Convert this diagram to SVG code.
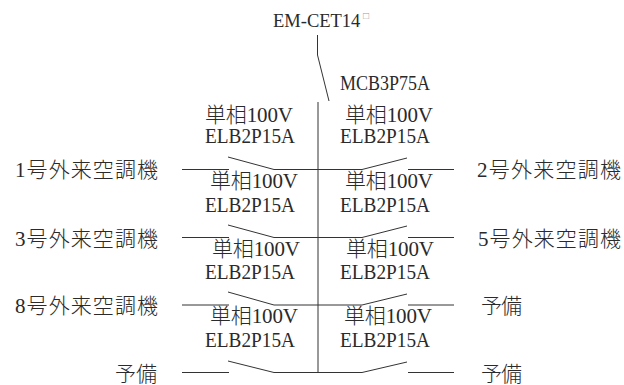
<svg xmlns="http://www.w3.org/2000/svg" width="624" height="385" viewBox="0 0 624 385">
<style>
text{font-family:"Liberation Serif","Noto Sans CJK JP",serif;font-size:20px;fill:#2a2a2a}
.c{font-size:21px;font-weight:300}
#connectors path{fill:none;stroke:#333;stroke-width:1}
</style>
<rect width="624" height="385" fill="#fff"/>
<g id="connectors">
<path d="M317.5 35V55L329 101"/>
<path d="M318 102V372.5"/>
<path d="M182 169.5H229M228 157L274 169.5H362L407 158M408 169.5H454"/>
<path d="M182 237.5H229M228 225L274 237.5H362L407 226M408 237.5H454"/>
<path d="M182 305H229M228 292L274 305H362L407 294M408 305H454"/>
<path d="M182 372.5H229M228 361L274 372.5H362L407 362M408 372.5H454"/>
</g>
<g id="source"><text x="273" y="27" style="font-size:18.5px">EM-CET14</text><text x="363" y="19" style="font-size:10px;fill:#999">□</text></g>
<g id="mcb"><text x="340" y="90" textLength="90" lengthAdjust="spacingAndGlyphs">MCB3P75A</text></g>
<g id="breaker-l1"><text class="c" x="205" y="122" textLength="88">単相100V</text><text x="205" y="143" textLength="90" lengthAdjust="spacingAndGlyphs">ELB2P15A</text></g>
<g id="breaker-r1"><text class="c" x="345" y="122" textLength="88">単相100V</text><text x="340" y="143" textLength="90" lengthAdjust="spacingAndGlyphs">ELB2P15A</text></g>
<g id="breaker-l2"><text class="c" x="210" y="188" textLength="88">単相100V</text><text x="205" y="212" textLength="90" lengthAdjust="spacingAndGlyphs">ELB2P15A</text></g>
<g id="breaker-r2"><text class="c" x="345" y="188" textLength="88">単相100V</text><text x="340" y="212" textLength="90" lengthAdjust="spacingAndGlyphs">ELB2P15A</text></g>
<g id="breaker-l3"><text class="c" x="212" y="256" textLength="88">単相100V</text><text x="205" y="279" textLength="90" lengthAdjust="spacingAndGlyphs">ELB2P15A</text></g>
<g id="breaker-r3"><text class="c" x="346" y="256" textLength="88">単相100V</text><text x="340" y="279" textLength="90" lengthAdjust="spacingAndGlyphs">ELB2P15A</text></g>
<g id="breaker-l4"><text class="c" x="210" y="323" textLength="88">単相100V</text><text x="205" y="347" textLength="90" lengthAdjust="spacingAndGlyphs">ELB2P15A</text></g>
<g id="breaker-r4"><text class="c" x="344" y="323" textLength="88">単相100V</text><text x="340" y="347" textLength="90" lengthAdjust="spacingAndGlyphs">ELB2P15A</text></g>
<g id="load-1"><text class="c" x="15" y="177" textLength="143">1号外来空調機</text></g>
<g id="load-3"><text class="c" x="15" y="246" textLength="143">3号外来空調機</text></g>
<g id="load-8"><text class="c" x="15" y="313" textLength="143">8号外来空調機</text></g>
<g id="spare-l"><text class="c" x="115" y="381" textLength="42">予備</text></g>
<g id="load-2"><text class="c" x="477" y="177" textLength="144">2号外来空調機</text></g>
<g id="load-5"><text class="c" x="478" y="246" textLength="143">5号外来空調機</text></g>
<g id="spare-r1"><text class="c" x="481" y="313" textLength="41">予備</text></g>
<g id="spare-r2"><text class="c" x="481" y="381" textLength="41">予備</text></g>
</svg>
